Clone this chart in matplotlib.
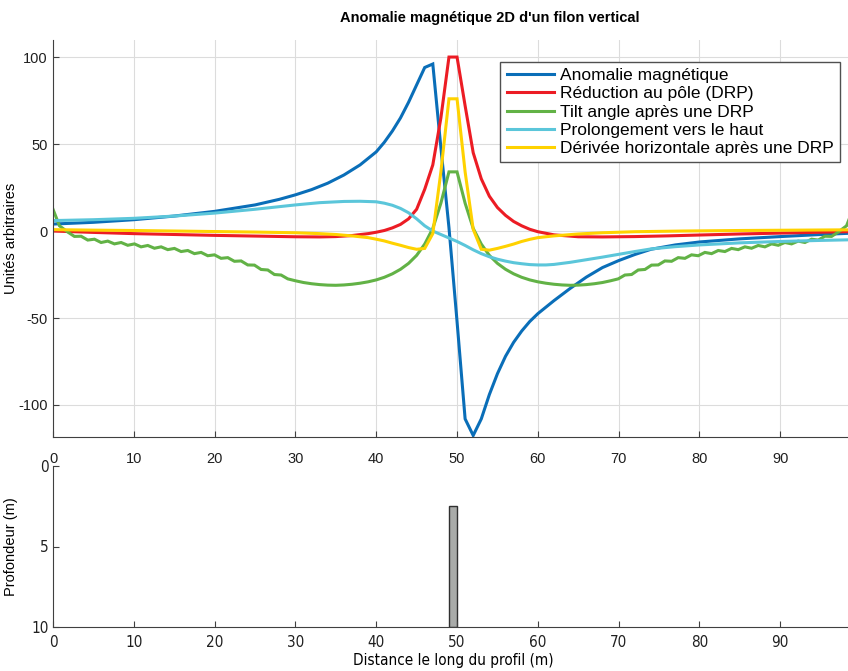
import matplotlib.pyplot as plt

""" Data read off the chart """
blue_x = [0, 5, 10, 15, 20, 25, 28, 30, 32, 34, 36, 38, 40, 41, 42, 43, 44, 45, 46, 47,
          48, 49, 50, 51, 52, 53, 54, 55, 56, 57, 58, 59, 60, 62, 64, 66, 68, 70, 72, 74,
          77, 80, 85, 90, 95, 99]
blue_y = [4.0, 5.0, 6.5, 8.6, 11.3, 15.0, 18.2, 20.8, 23.8, 27.5, 32.2, 38.0, 45.5, 51.0, 57.5, 65.0, 74.0, 84.0, 94.0, 96.0,
          48.0, 2.0, -52.0, -108.0, -117.5, -108.0, -94.0, -82.0, -72.0, -64.0, -57.5, -52.0, -47.5, -40.0, -33.0, -26.5, -21.0, -17.0, -13.5, -10.5,
          -8.0, -6.3, -4.5, -3.2, -2.0, -1.2]

red_x = [0, 5, 10, 15, 20, 25, 30, 33, 35, 37, 39, 40, 41, 42, 43, 44, 45, 46, 47, 48,
         49, 50, 51, 52, 53, 54, 55, 56, 57, 58, 59, 60, 62, 65, 68, 72, 76, 80, 85, 90,
         95, 99]
red_y = [0.0, -0.8, -1.5, -2.0, -2.5, -2.9, -3.3, -3.4, -3.2, -2.6, -1.5, -0.7, 0.3, 1.8, 3.8, 7.0, 12.5, 24.0, 38.0, 65.0,
         100.0, 100.0, 72.0, 45.0, 30.0, 20.0, 13.5, 9.0, 5.5, 3.0, 1.0, -0.4, -2.2, -3.3, -3.4, -3.2, -2.8, -2.3, -1.7, -1.2,
         -0.7, -0.3]

green_x = [0, 0.8, 1.83, 2.65, 3.48, 4.30, 5.13, 5.95, 6.78, 7.60, 8.43, 9.25, 10.08, 10.90, 11.73,
           12.55, 13.38, 14.20, 15.03, 15.85, 16.68, 17.50, 18.33, 19.15, 19.98, 20.80, 21.63, 22.45,
           23.28, 24.10, 24.93, 25.75, 26.58, 27.40, 28.23, 29.05,
           30, 31, 32, 33, 34, 35, 36, 37, 38, 39, 40, 41, 42, 43, 44, 45, 46, 47, 48, 49,
           50, 51, 52, 53, 54, 55, 56, 57, 58, 59, 60, 61, 62, 63, 64, 65, 66, 67, 68, 69,
           69.95, 70.77, 71.60, 72.42, 73.25, 74.07, 74.90, 75.72, 76.55, 77.37, 78.20, 79.02,
           79.85, 80.67, 81.50, 82.32, 83.15, 83.97, 84.80, 85.62, 86.45, 87.27, 88.10, 88.92,
           89.75, 90.57, 91.40, 92.22, 93.05, 93.87, 94.70, 95.52, 96.35, 97.17, 98.2, 99]
green_y = [12.5, 3.0, -0.6, -3.1, -3.0, -5.2, -4.7, -6.6, -5.8, -7.4, -6.6, -8.2, -7.4, -9.1, -8.3,
           -9.9, -9.1, -10.7, -10.0, -11.8, -11.2, -13.0, -12.3, -14.2, -13.7, -15.7, -15.3, -17.4,
           -17.2, -19.5, -19.6, -22.1, -22.4, -25.0, -25.3, -27.5,
           -28.6, -29.6, -30.3, -30.8, -31.1, -31.2, -31.0, -30.6, -30.0, -29.2, -28.1, -26.6, -24.6, -22.0,
           -18.6, -14.0, -7.5, 1.5, 16.0, 34.0, 34.0, 16.0, 1.5, -7.5, -14.0, -18.6, -22.0, -24.6, -26.6,
           -28.1, -29.2, -30.0, -30.6, -31.0, -31.2, -31.1, -30.8, -30.3, -29.6, -28.6,
           -27.5, -25.3, -25.0, -22.4, -22.1, -19.6, -19.5, -17.2, -17.4, -15.3, -15.7, -13.7,
           -14.2, -12.3, -13.0, -11.2, -11.8, -10.0, -10.7, -9.1, -9.9, -8.3, -9.1, -7.4,
           -8.2, -6.6, -7.4, -5.8, -6.6, -4.7, -5.2, -3.0, -3.1, -0.6, 3.0, 12.5]

cyan_x = [0, 5, 10, 15, 20, 25, 30, 33, 36, 38, 40, 41, 42, 43, 44, 45, 46, 47, 48, 49,
          50, 51, 52, 53, 54, 55, 56, 57, 58, 59, 60, 61, 62, 64, 66, 68, 70, 72, 74, 77,
          80, 85, 90, 95, 99]
cyan_y = [6.0, 6.5, 7.3, 8.6, 10.3, 12.5, 15.0, 16.3, 17.0, 17.1, 16.8, 16.0, 14.8, 13.0, 10.5, 7.0, 3.0, 0.0, -2.0, -4.0,
          -6.0, -8.3, -10.8, -13.0, -14.8, -16.2, -17.3, -18.2, -18.8, -19.3, -19.5, -19.5, -19.2, -18.0, -16.5, -15.0, -13.4, -11.8, -10.3, -9.0,
          -8.0, -6.8, -6.0, -5.4, -5.0]

yellow_x = [0, 5, 10, 15, 20, 25, 30, 33, 35, 37, 39, 40, 41, 42, 43, 44, 45, 46, 47, 48,
            49, 50, 51, 52, 53, 54, 55, 56, 57, 58, 59, 60, 62, 65, 68, 72, 78, 85, 92, 99]
yellow_y = [0.8, 0.5, 0.3, 0.0, -0.3, -0.6, -1.0, -1.5, -2.0, -2.8, -3.8, -4.7, -5.7, -7.0, -8.2, -9.5, -10.5, -10.0, -1.5, 34.0,
            76.0, 76.0, 34.0, 1.0, -10.5, -11.0, -10.0, -8.8, -7.5, -6.0, -4.8, -3.8, -2.8, -1.7, -1.0, -0.4, 0.0, 0.3, 0.5, 0.7]

labels = ["Anomalie magnétique", "Réduction au pôle (DRP)", "Tilt angle après une DRP",
          "Prolongement vers le haut", "Dérivée horizontale après une DRP"]
colors = ["#0A6EB8", "#EC1C24", "#62B246", "#5BC6DA", "#FFD200"]

# vertical dyke in the section below
dyke_left = 49
dyke_right = 50
dyke_top = 2.5
dyke_bottom = 10

x_ticks = [0, 10, 20, 30, 40, 50, 60, 70, 80, 90]
y_ticks_top = [-100, -50, 0, 50, 100]
y_ticks_bottom = [0, 5, 10]

plt.rcParams['font.family'] = ['Liberation Sans', 'DejaVu Sans']
plt.rcParams['axes.unicode_minus'] = False

fig = plt.figure(figsize=(8.48, 6.71), dpi=100)
ax = fig.add_axes([53 / 848, 1 - 437 / 671, 800 / 848, 397 / 671])
ax2 = fig.add_axes([53 / 848, 1 - 627 / 671, 800 / 848, 161 / 671])

series = [(blue_x, blue_y), (red_x, red_y), (green_x, green_y), (cyan_x, cyan_y), (yellow_x, yellow_y)]
for (xs, ys), c, lab in zip(series, colors, labels):
    ax.plot(xs, ys, color=c, lw=2.2, label=lab, solid_joinstyle='miter')

ax.set_xlim(0, 99)
ax.set_ylim(-118.4, 109.8)
ax.set_xticks(x_ticks)
ax.set_yticks(y_ticks_top)
ax.grid(True, color='#dcdcdc', lw=0.8)
ax.set_axisbelow(True)
for s in ['top', 'right']:
    ax.spines[s].set_visible(False)
for s in ['left', 'bottom']:
    ax.spines[s].set_color('#404040')
ax.tick_params(direction='in', length=4, colors='#404040', labelcolor='#202020', labelsize=10.5)
ax.tick_params(axis='x', pad=11)
ax.tick_params(axis='y', pad=4)
ax.set_ylabel("Unités arbitraires", fontsize=10.5)
ax.yaxis.set_label_coords(-35 / 800, 0.5)

leg = ax.legend(loc='upper right', bbox_to_anchor=(0.984, 0.945), borderaxespad=0, fontsize=12.5,
                labelspacing=0.18, handlelength=2.75, handletextpad=0.35, borderpad=0.35,
                fancybox=False, framealpha=1)
leg.get_frame().set_edgecolor('#505050')
leg.get_frame().set_linewidth(1.0)

fig.text(490 / 848, 1 - 18 / 671, "Anomalie magnétique 2D d'un filon vertical",
         ha='center', va='center', fontsize=10.5, fontweight='bold')

ax2.bar(dyke_left, dyke_bottom - dyke_top, bottom=dyke_top, width=dyke_right - dyke_left,
        align='edge', color='#A9ABA9', edgecolor='#303030', lw=1)
ax2.set_xlim(0, 99)
ax2.set_ylim(dyke_bottom, 0)
ax2.set_xticks(x_ticks)
ax2.set_yticks(y_ticks_bottom)
for s in ['top', 'right']:
    ax2.spines[s].set_visible(False)
for s in ['left', 'bottom']:
    ax2.spines[s].set_color('#404040')
ax2.tick_params(direction='in', length=4, colors='#404040', labelcolor='#202020', labelsize=11.5)
ax2.tick_params(axis='x', pad=6)
ax2.tick_params(axis='y', pad=3)
for t in ax2.get_xticklabels() + ax2.get_yticklabels():
    t.set_family('DejaVu Sans')
    t.set_stretch('condensed')
    t.set_fontsize(11)
ax2.set_xlabel("Distance le long du profil (m)", fontsize=11, family='DejaVu Sans', stretch='condensed')
ax2.xaxis.set_label_coords(0.5, -26 / 161)
ax2.set_ylabel("Profondeur (m)", fontsize=10.5)
ax2.yaxis.set_label_coords(-35 / 800, 0.5)

fig.savefig("out.png", dpi=100)
